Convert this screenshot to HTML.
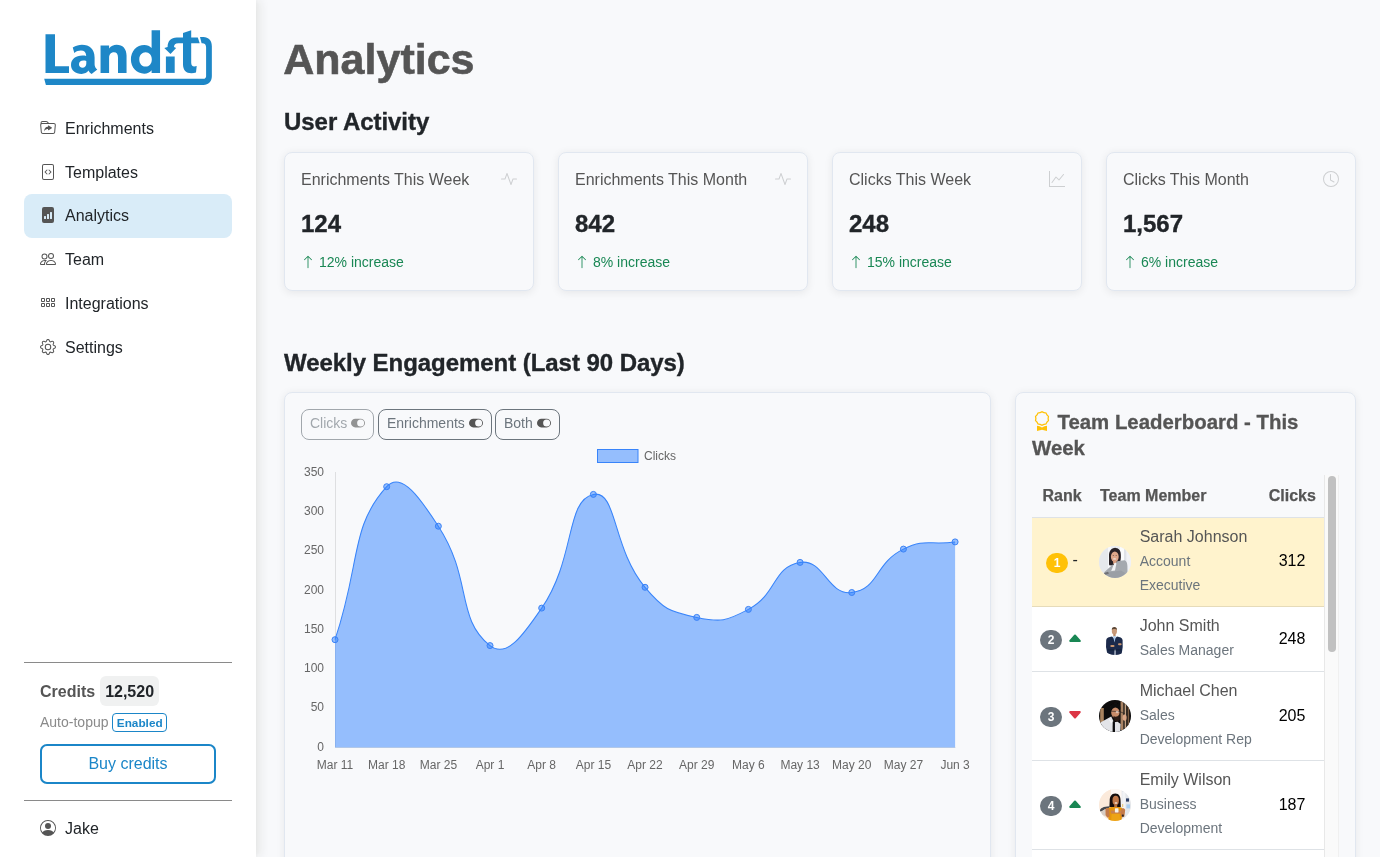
<!DOCTYPE html>
<html lang="en">
<head>
<meta charset="utf-8">
<title>Analytics</title>
<style>
*{box-sizing:border-box;}
html,body{margin:0;padding:0;}
body{width:1380px;height:857px;overflow:hidden;background:#f8f9fb;font-family:"Liberation Sans",sans-serif;font-size:16px;line-height:1.5;color:#212529;position:relative;}
#side,#main{will-change:transform;}
#main{position:absolute;left:0;top:0;width:1380px;height:857px;overflow:hidden;}
svg{display:block;}
/* ---------- sidebar ---------- */
#side{position:absolute;left:0;top:0;width:256px;height:857px;background:#fff;box-shadow:5px 0 9px rgba(45,40,20,.07),1px 0 5px rgba(45,40,20,.03);}
#logo{position:absolute;left:0;top:0;}
.nav{position:absolute;left:24px;top:106px;width:208px;}
.nav a{display:flex;align-items:center;height:43.8px;padding:2px 16px 0;border-radius:8px;color:#212529;text-decoration:none;}
.nav a svg{width:16px;height:16px;margin-right:9px;margin-top:-2px;fill:#555;flex:none;}
.nav a.act{background:#d9ecf8;height:44.6px;margin-bottom:-.8px;padding-bottom:.8px;}
.hr{position:absolute;left:24px;width:208px;height:1px;background:#8a8a8a;}
.cred{position:absolute;left:40px;top:677px;height:30px;display:flex;align-items:center;font-weight:bold;color:#555;}
.cred span{display:inline-block;margin-left:5px;margin-top:-2px;background:#f0f1f1;color:#212529;border-radius:6px;padding:2px 5px 0;height:30px;line-height:28px;}
.auto{position:absolute;left:40px;top:711px;font-size:14px;color:#8a8a8a;height:22px;line-height:22px;}
.auto b{display:inline-block;margin-left:0;font-size:11.8px;color:#1b86c8;border:1px solid #1b86c8;border-radius:4px;padding:1px 3.4px 0;height:19px;line-height:16px;vertical-align:0.5px;}
.buy{position:absolute;left:40px;top:744px;width:176px;height:40px;border:2px solid #1b86c8;border-radius:7px;color:#1b86c8;text-align:center;line-height:35px;}
.user{position:absolute;left:40px;top:817px;display:flex;align-items:center;height:24px;}
.user svg{width:16px;height:16px;fill:#555;margin-right:9px;margin-top:-2px;}
/* ---------- main ---------- */
h1{-webkit-text-stroke:0.6px #555;position:absolute;left:283.3px;top:27px;margin:0;font-size:43px;line-height:64px;color:#555;font-weight:bold;letter-spacing:0;}
h2{letter-spacing:-0.05px;-webkit-text-stroke:0.35px #212529;position:absolute;left:284px;margin:0;font-size:24px;line-height:30px;font-weight:bold;color:#212529;}
.card{position:absolute;background:#f8f9fb;border:1px solid #e1e7f0;border-radius:8px;box-shadow:0 1.5px 8px rgba(0,0,0,.075);}
.stat{top:152px;width:250px;height:139px;}
.stat .t{position:absolute;left:16px;top:15px;color:#555;}
.stat .i{position:absolute;right:16px;top:18px;width:16px;height:16px;fill:#cdcfd1;}
.stat .n{-webkit-text-stroke:0.35px #212529;position:absolute;left:16px;top:53px;font-size:24px;font-weight:bold;line-height:36px;}
.stat .d{position:absolute;left:16px;top:99px;font-size:14px;color:#198754;line-height:21px;display:flex;align-items:center;}
.stat .d svg{width:14px;height:14px;fill:#198754;margin-right:4px;margin-top:-2px;}
.tg{position:absolute;height:31px;border:1px solid #6c757d;border-radius:8px;padding:0 8px 4px 8px;font-size:14px;line-height:20px;color:#6c757d;white-space:nowrap;display:flex;align-items:center;}
.tg svg{width:14px;height:14px;fill:#555;margin-left:4px;}
.bt{-webkit-text-stroke:0.3px #555;position:absolute;font-size:20.4px;font-weight:bold;color:#555;line-height:26px;white-space:nowrap;}
.th{-webkit-text-stroke:0.25px #555;position:absolute;font-weight:bold;color:#555;line-height:24px;white-space:nowrap;}
.bdg{position:absolute;width:22.3px;height:20.4px;border-radius:10.2px;color:#fff;font-size:12px;font-weight:bold;line-height:20.4px;text-align:center;}
.car{position:absolute;width:16px;height:16px;}
.nm{position:absolute;color:#555;line-height:24px;white-space:nowrap;}
.sb{position:absolute;color:#6c757d;font-size:14px;line-height:24px;white-space:nowrap;}
.ck{position:absolute;width:60px;text-align:center;color:#000;line-height:24px;}
.av{position:absolute;width:32px;height:32px;border-radius:50%;overflow:hidden;}
.avs{position:absolute;}
</style>
</head>
<body>

<div id="main">
<h1>Analytics</h1>
<h2 style="top:107px">User Activity</h2>

<div class="card stat" style="left:284px">
  <div class="t">Enrichments This Week</div>
  <svg class="i" viewBox="0 0 16 16"><path fill-rule="evenodd" d="M6 2a.5.5 0 0 1 .47.33L10 12.036l1.53-4.208A.5.5 0 0 1 12 7.5h3.5a.5.5 0 0 1 0 1h-3.15l-1.88 5.17a.5.5 0 0 1-.94 0L6 3.964 4.47 8.171A.5.5 0 0 1 4 8.5H.5a.5.5 0 0 1 0-1h3.15l1.88-5.17A.5.5 0 0 1 6 2"/></svg>
  <div class="n">124</div>
  <div class="d"><svg viewBox="0 0 16 16"><path fill-rule="evenodd" d="M8 15a.5.5 0 0 0 .5-.5V2.707l3.146 3.147a.5.5 0 0 0 .708-.708l-4-4a.5.5 0 0 0-.708 0l-4 4a.5.5 0 1 0 .708.708L7.5 2.707V14.5a.5.5 0 0 0 .5.5"/></svg>12% increase</div>
</div>
<div class="card stat" style="left:558px">
  <div class="t">Enrichments This Month</div>
  <svg class="i" viewBox="0 0 16 16"><path fill-rule="evenodd" d="M6 2a.5.5 0 0 1 .47.33L10 12.036l1.53-4.208A.5.5 0 0 1 12 7.5h3.5a.5.5 0 0 1 0 1h-3.15l-1.88 5.17a.5.5 0 0 1-.94 0L6 3.964 4.47 8.171A.5.5 0 0 1 4 8.5H.5a.5.5 0 0 1 0-1h3.15l1.88-5.17A.5.5 0 0 1 6 2"/></svg>
  <div class="n">842</div>
  <div class="d"><svg viewBox="0 0 16 16"><path fill-rule="evenodd" d="M8 15a.5.5 0 0 0 .5-.5V2.707l3.146 3.147a.5.5 0 0 0 .708-.708l-4-4a.5.5 0 0 0-.708 0l-4 4a.5.5 0 1 0 .708.708L7.5 2.707V14.5a.5.5 0 0 0 .5.5"/></svg>8% increase</div>
</div>
<div class="card stat" style="left:832px">
  <div class="t">Clicks This Week</div>
  <svg class="i" viewBox="0 0 16 16"><path fill-rule="evenodd" d="M0 0h1v15h15v1H0zm14.817 3.113a.5.5 0 0 1 .07.704l-4.5 5.5a.5.5 0 0 1-.74.037L7.06 6.767l-3.656 5.027a.5.5 0 0 1-.808-.588l4-5.5a.5.5 0 0 1 .758-.06l2.609 2.61 4.15-5.073a.5.5 0 0 1 .704-.07"/></svg>
  <div class="n">248</div>
  <div class="d"><svg viewBox="0 0 16 16"><path fill-rule="evenodd" d="M8 15a.5.5 0 0 0 .5-.5V2.707l3.146 3.147a.5.5 0 0 0 .708-.708l-4-4a.5.5 0 0 0-.708 0l-4 4a.5.5 0 1 0 .708.708L7.5 2.707V14.5a.5.5 0 0 0 .5.5"/></svg>15% increase</div>
</div>
<div class="card stat" style="left:1106px">
  <div class="t">Clicks This Month</div>
  <svg class="i" viewBox="0 0 16 16"><path d="M8 3.5a.5.5 0 0 0-1 0V9a.5.5 0 0 0 .252.434l3.5 2a.5.5 0 0 0 .496-.868L8 8.71z"/><path d="M8 16A8 8 0 1 0 8 0a8 8 0 0 0 0 16m7-8A7 7 0 1 1 1 8a7 7 0 0 1 14 0"/></svg>
  <div class="n">1,567</div>
  <div class="d"><svg viewBox="0 0 16 16"><path fill-rule="evenodd" d="M8 15a.5.5 0 0 0 .5-.5V2.707l3.146 3.147a.5.5 0 0 0 .708-.708l-4-4a.5.5 0 0 0-.708 0l-4 4a.5.5 0 1 0 .708.708L7.5 2.707V14.5a.5.5 0 0 0 .5.5"/></svg>6% increase</div>
</div>

<h2 style="top:348px">Weekly Engagement (Last 90 Days)</h2>

<div class="card" style="left:284px;top:392px;width:707px;height:480px"></div>
<div class="tg" style="left:301px;top:409px;opacity:.62">Clicks <svg viewBox="0 0 16 16"><path d="M5 3a5 5 0 0 0 0 10h6a5 5 0 0 0 0-10zm6 9a4 4 0 1 1 0-8 4 4 0 0 1 0 8"/></svg></div>
<div class="tg" style="left:378px;top:409px">Enrichments <svg viewBox="0 0 16 16"><path d="M5 3a5 5 0 0 0 0 10h6a5 5 0 0 0 0-10zm6 9a4 4 0 1 1 0-8 4 4 0 0 1 0 8"/></svg></div>
<div class="tg" style="left:495px;top:409px">Both <svg viewBox="0 0 16 16"><path d="M5 3a5 5 0 0 0 0 10h6a5 5 0 0 0 0-10zm6 9a4 4 0 1 1 0-8 4 4 0 0 1 0 8"/></svg></div>
<svg id="chart" width="1380" height="857" viewBox="0 0 1380 857" style="position:absolute;left:0;top:0;pointer-events:none">
<rect x="597.5" y="449.5" width="40.5" height="13" fill="rgba(50,131,255,.5)" stroke="#3884fa" stroke-width="1"/>
<g font-family="Liberation Sans, sans-serif" font-size="12" fill="#666">
<text x="644" y="460">Clicks</text>
<text x="324" y="750.7" text-anchor="end">0</text><text x="324" y="711.4" text-anchor="end">50</text><text x="324" y="672.1" text-anchor="end">100</text><text x="324" y="632.8" text-anchor="end">150</text><text x="324" y="593.5" text-anchor="end">200</text><text x="324" y="554.2" text-anchor="end">250</text><text x="324" y="514.9" text-anchor="end">300</text><text x="324" y="475.6" text-anchor="end">350</text>
<text x="335.0" y="769" text-anchor="middle">Mar 11</text><text x="386.7" y="769" text-anchor="middle">Mar 18</text><text x="438.4" y="769" text-anchor="middle">Mar 25</text><text x="490.0" y="769" text-anchor="middle">Apr 1</text><text x="541.7" y="769" text-anchor="middle">Apr 8</text><text x="593.4" y="769" text-anchor="middle">Apr 15</text><text x="645.0" y="769" text-anchor="middle">Apr 22</text><text x="696.7" y="769" text-anchor="middle">Apr 29</text><text x="748.4" y="769" text-anchor="middle">May 6</text><text x="800.1" y="769" text-anchor="middle">May 13</text><text x="851.8" y="769" text-anchor="middle">May 20</text><text x="903.4" y="769" text-anchor="middle">May 27</text><text x="955.1" y="769" text-anchor="middle">Jun 3</text>
</g>
<path d="M335.5 472V747.5H955.5" fill="none" stroke="rgba(0,0,0,.1)" stroke-width="1"/>
<path d="M335.00 639.70 C360.84 563.20 349.84 527.16 386.68 486.70 C401.51 470.41 421.13 499.72 438.35 526.20 C472.80 579.17 455.36 618.13 490.02 645.60 C507.04 659.08 524.22 633.67 541.70 608.10 C575.89 558.07 565.46 500.02 593.38 494.40 C617.14 489.62 611.98 547.94 645.05 587.30 C663.65 609.44 669.16 611.50 696.73 617.40 C720.83 622.55 726.28 621.17 748.40 609.40 C777.95 593.67 772.23 566.95 800.08 562.40 C823.91 558.50 827.47 595.62 851.75 592.50 C879.15 588.97 874.28 563.37 903.43 549.10 C925.96 538.07 929.26 545.50 955.10 541.90 L955.10 747.5 L335 747.5 Z" fill="rgba(50,131,255,.5)"/>
<path d="M335.00 639.70 C360.84 563.20 349.84 527.16 386.68 486.70 C401.51 470.41 421.13 499.72 438.35 526.20 C472.80 579.17 455.36 618.13 490.02 645.60 C507.04 659.08 524.22 633.67 541.70 608.10 C575.89 558.07 565.46 500.02 593.38 494.40 C617.14 489.62 611.98 547.94 645.05 587.30 C663.65 609.44 669.16 611.50 696.73 617.40 C720.83 622.55 726.28 621.17 748.40 609.40 C777.95 593.67 772.23 566.95 800.08 562.40 C823.91 558.50 827.47 595.62 851.75 592.50 C879.15 588.97 874.28 563.37 903.43 549.10 C925.96 538.07 929.26 545.50 955.10 541.90" fill="none" stroke="#3884fa" stroke-width="1.05"/>
<g fill="rgba(50,131,255,.5)" stroke="#3b82f6" stroke-width="1"><circle cx="335.00" cy="639.70" r="3"/><circle cx="386.68" cy="486.70" r="3"/><circle cx="438.35" cy="526.20" r="3"/><circle cx="490.02" cy="645.60" r="3"/><circle cx="541.70" cy="608.10" r="3"/><circle cx="593.38" cy="494.40" r="3"/><circle cx="645.05" cy="587.30" r="3"/><circle cx="696.73" cy="617.40" r="3"/><circle cx="748.40" cy="609.40" r="3"/><circle cx="800.08" cy="562.40" r="3"/><circle cx="851.75" cy="592.50" r="3"/><circle cx="903.43" cy="549.10" r="3"/><circle cx="955.10" cy="541.90" r="3"/></g>
</svg>
<!--CHARTEND-->
<!--BOARDSTART--><div class="card" style="left:1015px;top:392px;width:341px;height:480px"></div>
<svg viewBox="0 0 16 16" style="position:absolute;left:1032px;top:411px;width:20px;height:20px;fill:#ffc107"><path d="M9.669.864 8 0 6.331.864l-1.858.282-.842 1.68-1.337 1.32L2.6 6l-.306 1.854 1.337 1.32.842 1.68 1.858.282L8 12l1.669-.864 1.858-.282.842-1.68 1.337-1.32L13.4 6l.306-1.854-1.337-1.32-.842-1.68zm1.196 1.193.684 1.365 1.086 1.072L12.387 6l.248 1.506-1.086 1.072-.684 1.365-1.51.229L8 10.874l-1.355-.702-1.51-.229-.684-1.365-1.086-1.072L3.614 6l-.25-1.506 1.087-1.072.684-1.365 1.51-.229L8 1.126l1.356.702z"/><path d="M4 11.794V16l4-1 4 1v-4.206l-2.018.306L8 13.126 6.018 12.1z"/></svg>
<div class="bt" style="left:1057.5px;top:409px">Team Leaderboard - This</div>
<div class="bt" style="left:1032px;top:435px">Week</div>
<div style="position:absolute;left:1324px;top:475px;width:15px;height:382px;background:#fafafa;border-left:1px solid #e8e8e8;border-right:1px solid #f0f0f0"></div>
<div style="position:absolute;left:1328.4px;top:476px;width:7.2px;height:176px;background:#c1c1c1;border-radius:4px"></div>
<div class="th" style="left:1042.5px;top:484px">Rank</div>
<div class="th" style="left:1100px;top:484px">Team Member</div>
<div class="th" style="left:1268.7px;top:484px">Clicks</div>
<div style="position:absolute;left:1032px;top:517px;width:292px;height:1px;background:#dee2e6"></div>
<div style="position:absolute;left:1032px;top:518px;width:292px;height:89px;background:#fff3cd;border-bottom:1px solid #e6dbb9"></div>
<div class="bdg" style="left:1046.0px;top:552.8px;background:#ffc107">1</div>
<div style="position:absolute;left:1072.4px;top:548.0px;line-height:24px;color:#212529">-</div>
<!--AV1--><svg class="avs" style="left:1099.0px;top:546.2px" width="32" height="32" viewBox="0 0 32 32"><defs><clipPath id="cp1"><circle cx="16" cy="16" r="16"/></clipPath><filter id="bl1" x="-10%" y="-10%" width="120%" height="120%"><feGaussianBlur stdDeviation="0.45"/></filter></defs><g clip-path="url(#cp1)"><rect width="32" height="32" fill="#eceef2"/><g filter="url(#bl1)"><rect x="0" y="0" width="10" height="32" fill="#e6e8ec"/><rect x="9" y="0" width="3" height="32" fill="#f6f7fa"/><rect x="12" y="0" width="9" height="32" fill="#eceef2"/><rect x="21" y="0" width="4" height="32" fill="#fafbfd"/><rect x="25" y="0" width="2.5" height="32" fill="#dfe2e8"/><rect x="27.5" y="0" width="5" height="32" fill="#f1f2f6"/><path d="M16.6 1.8 C11.8 1.8 10 5.5 10 10 C10.2 14 9.8 17 10.2 19.2 L14.5 19.5 L21 16.5 C22.2 13 22 9 21.6 6.5 C21 3.5 19.2 2 16.6 2 Z" fill="#2a2226"/><ellipse cx="15.8" cy="10.7" rx="3.9" ry="5.2" fill="#e0a78a"/><path d="M14 13.5 L17.5 13.5 L17.4 17.5 L14.2 18 Z" fill="#d99f82"/><ellipse cx="15.6" cy="12.9" rx="1.6" ry="0.65" fill="#f3e9e4"/><ellipse cx="14.3" cy="9.4" rx="0.7" ry="0.4" fill="#4a3a36"/><ellipse cx="17.2" cy="9.4" rx="0.7" ry="0.4" fill="#4a3a36"/><path d="M18 15.2 L25.5 14.2 C27.5 14.6 28.3 17 28.4 20 L28.6 32 L4 32 L5.5 26 L13.8 18.6 L15.5 22 Z" fill="#a5a9af"/><path d="M15.2 17.2 L17.6 16.4 L16 24.5 L12.2 25 Z" fill="#f2f3f5"/><path d="M8 26.5 L22 24.5 L26 27 L24 32 L6 32 Z" fill="#9a9ea5"/><path d="M5 27 L9 25.8 L10 27.5 L6 29 Z" fill="#6f6f74"/></g></g></svg><!--/AV1-->
<div class="nm" style="left:1139.7px;top:525px">Sarah Johnson</div>
<div class="sb" style="left:1139.7px;top:549px">Account</div>
<div class="sb" style="left:1139.7px;top:573px">Executive</div>
<div class="ck" style="left:1262px;top:548.5px">312</div>
<div style="position:absolute;left:1032px;top:607px;width:292px;height:65px;background:#fff;border-bottom:1px solid #dee2e6"></div>
<div class="bdg" style="left:1040.0px;top:629.8px;background:#6c757d">2</div>
<svg class="car" viewBox="0 0 16 16" style="left:1066.8px;top:630.2px;fill:#198754"><path d="m7.247 4.86-4.796 5.481c-.566.647-.106 1.659.753 1.659h9.592a1 1 0 0 0 .753-1.659l-4.796-5.48a1 1 0 0 0-1.506 0z"/></svg>
<!--AV2--><svg class="avs" style="left:1099.0px;top:622.8px" width="32" height="32" viewBox="0 0 32 32"><defs><clipPath id="cp2"><circle cx="16" cy="16" r="16"/></clipPath><filter id="bl2" x="-10%" y="-10%" width="120%" height="120%"><feGaussianBlur stdDeviation="0.45"/></filter></defs><g clip-path="url(#cp2)"><rect width="32" height="32" fill="#ffffff"/><g filter="url(#bl2)"><ellipse cx="15.4" cy="8" rx="2.6" ry="3.6" fill="#c99a78"/><path d="M12.8 7 C12.8 4.6 14 4 15.4 4 C16.9 4 18 4.7 18 7 C17.2 5.8 13.6 5.8 12.8 7 Z" fill="#5b4636"/><rect x="14.3" y="10.8" width="2.3" height="2.6" fill="#bd8c69"/><path d="M13 13.6 C10 14 7.6 15 7.2 17 L7 24 L8.5 31.9 L22.5 31.9 L23.7 24 L23.6 17 C23.2 15 20.8 14 18 13.6 L15.5 16 Z" fill="#1c2a4b"/><path d="M14.1 13.2 L16.9 13.2 L15.5 19.6 Z" fill="#a9c8ea"/><rect x="11.3" y="22" width="4.2" height="2.1" rx="1" fill="#c9956f"/><rect x="19" y="20.3" width="3.6" height="2" rx="1" fill="#c9956f"/><path d="M15.3 26.5 L17 26.5 L17 31.9 L15 31.9 Z" fill="#8e99ad"/><path d="M8.5 26.5 L22.5 26.5 L22.5 27.3 L8.5 27.3 Z" fill="#121c35"/></g></g></svg><!--/AV2-->
<div class="nm" style="left:1139.7px;top:614px">John Smith</div>
<div class="sb" style="left:1139.7px;top:638px">Sales Manager</div>
<div class="ck" style="left:1262px;top:626.5px">248</div>
<div style="position:absolute;left:1032px;top:672px;width:292px;height:89px;background:#fff;border-bottom:1px solid #dee2e6"></div>
<div class="bdg" style="left:1040.0px;top:706.8px;background:#6c757d">3</div>
<svg class="car" viewBox="0 0 16 16" style="left:1066.8px;top:707.2px;fill:#dc3545"><path d="M7.247 11.14 2.451 5.658C1.885 5.013 2.345 4 3.204 4h9.592a1 1 0 0 1 .753 1.659l-4.796 5.48a1 1 0 0 1-1.506 0z"/></svg>
<!--AV3--><svg class="avs" style="left:1099.2px;top:699.7px" width="32" height="32" viewBox="0 0 32 32"><defs><clipPath id="cp3"><circle cx="16" cy="16" r="16"/></clipPath><filter id="bl3" x="-10%" y="-10%" width="120%" height="120%"><feGaussianBlur stdDeviation="0.45"/></filter></defs><g clip-path="url(#cp3)"><rect width="32" height="32" fill="#0d0c0c"/><g filter="url(#bl3)"><rect x="1.2" y="8" width="3.6" height="16" fill="#a9835f"/><rect x="21.6" y="0" width="2.8" height="30" fill="#a88263"/><rect x="25.6" y="2" width="1.6" height="26" fill="#c5a283"/><rect x="28.6" y="6" width="1.6" height="20" fill="#7a5b43"/><path d="M11.2 10 C10.4 5 13.5 3.2 16.5 3.2 C20 3.2 22 5.4 21.2 9.6 C19 8 14 8 11.2 10 Z" fill="#0e0c0c"/><ellipse cx="16.4" cy="12.6" rx="4.2" ry="5.2" fill="#c88c6a"/><path d="M14.4 15.8 C16 17.5 18.5 17 20.6 14.6 L21 19 C20 21.6 17.5 22.4 15.6 20.8 Z" fill="#2a1a14"/><path d="M12.4 11.2 L20.8 11.6 L25.5 13.6" stroke="#1d1614" stroke-width="0.6" fill="none"/><ellipse cx="18.2" cy="12" rx="1.5" ry="1.2" fill="#e7d6cc" opacity=".75"/><ellipse cx="25.6" cy="17.6" rx="2" ry="3.2" fill="#dba686"/><path d="M12.2 16.4 L1.4 22.6 L4 29 L8.4 32 L21.2 32 L21.6 24 L18.6 21.8 L15 22.2 Z" fill="#e3e4e8"/><path d="M13.7 21.2 L15.9 21.2 L16 32 L13.6 32 Z" fill="#0b0b0d"/><path d="M9.5 18.2 L13.8 21.6 L12 23.5 Z" fill="#f6f6f8"/></g></g></svg><!--/AV3-->
<div class="nm" style="left:1139.7px;top:679px">Michael Chen</div>
<div class="sb" style="left:1139.7px;top:703px">Sales</div>
<div class="sb" style="left:1139.7px;top:727px">Development Rep</div>
<div class="ck" style="left:1262px;top:703.5px">205</div>
<div style="position:absolute;left:1032px;top:761px;width:292px;height:89px;background:#fff;border-bottom:1px solid #dee2e6"></div>
<div class="bdg" style="left:1040.0px;top:795.8px;background:#6c757d">4</div>
<svg class="car" viewBox="0 0 16 16" style="left:1066.8px;top:796.2px;fill:#198754"><path d="m7.247 4.86-4.796 5.481c-.566.647-.106 1.659.753 1.659h9.592a1 1 0 0 0 .753-1.659l-4.796-5.48a1 1 0 0 0-1.506 0z"/></svg>
<!--AV4--><svg class="avs" style="left:1099.2px;top:788.8px" width="32" height="32" viewBox="0 0 32 32"><defs><clipPath id="cp4"><circle cx="16" cy="16" r="16"/></clipPath><filter id="bl4" x="-10%" y="-10%" width="120%" height="120%"><feGaussianBlur stdDeviation="0.45"/></filter></defs><g clip-path="url(#cp4)"><rect width="32" height="32" fill="#fdf8f4"/><g filter="url(#bl4)"><rect x="0" y="0" width="12" height="32" fill="#fbeadb"/><rect x="12" y="0" width="10.6" height="32" fill="#fdf8f4"/><rect x="22.6" y="0" width="10" height="32" fill="#e3e6ea"/><rect x="23.4" y="3" width="3" height="20" fill="#f2f3f5"/><rect x="27" y="9.4" width="3" height="3.2" fill="#2d3f66"/><rect x="27.4" y="15.4" width="3.6" height="4" fill="#a8cdee"/><rect x="23.2" y="15" width="1" height="3" fill="#e9c46c"/><path d="M0.6 22.4 C1 19 4.6 17.4 10.4 17.2 L10.4 19.4 C6 19.6 3.6 20.8 3 23 Z" fill="#44474d"/><path d="M1.4 22.4 L6.4 20.4 L7.2 27.5 L3.4 26 Z" fill="#d7cdc5"/><path d="M16.3 4.6 C12.4 4.6 10.6 8 10.7 12 L10.4 18 L21.8 18 L21.6 12 C21.7 8 20.2 4.6 16.3 4.6 Z" fill="#17100e"/><ellipse cx="16.7" cy="11.4" rx="3.2" ry="4.6" fill="#c17848"/><ellipse cx="17" cy="14" rx="1.5" ry="0.65" fill="#f4ebe4"/><rect x="15.2" y="15.2" width="3" height="3.4" fill="#b56e40"/><path d="M8.4 19.6 C9.4 18.2 12.4 17.8 15.4 18 L18.4 18 C21 17.8 23.2 18.4 23.6 19.8 L22.6 32 L9.6 32 Z" fill="#e5950d"/><path d="M6.4 20.4 C7 18.6 9.6 18.4 10.2 20 L10.6 27.6 L8.2 28.8 L6.6 26 Z" fill="#c47a48"/><path d="M22.2 20.4 C23 18.8 25.8 19 26.2 21 L25.4 27.4 L23 28.6 L21.8 26 Z" fill="#c47a48"/><path d="M11.5 21.6 L22.4 21.6 L22 24.4 L12 24.4 Z" fill="#c98250"/><rect x="15.9" y="19.2" width="3.6" height="4.2" rx="0.6" fill="#f5f2ec"/><rect x="22.9" y="25.6" width="1.9" height="2" fill="#2a2524"/><path d="M12.5 25 L20.8 25 L21.4 32 L12 32 Z" fill="#eda312"/></g></g></svg><!--/AV4-->
<div class="nm" style="left:1139.7px;top:768px">Emily Wilson</div>
<div class="sb" style="left:1139.7px;top:792px">Business</div>
<div class="sb" style="left:1139.7px;top:816px">Development</div>
<div class="ck" style="left:1262px;top:792.5px">187</div>
<div style="position:absolute;left:1032px;top:850px;width:292px;height:20px;background:#fff;border-bottom:1px solid #dee2e6"></div><!--BOARDEND-->
</div>
<div id="side">
  <svg id="logo" width="256" height="100" viewBox="0 0 256 100" fill="#1e87c7"><path d="M45.5 34.2H55V66.3H69V72.9H45.5Z"/><path fill-rule="evenodd" d="M72.75 47.4 C76 45.6 79 44.7 81.9 44.7 C89.5 44.7 94.6 49.2 94.6 57.5 V64.2 C94.6 66.5 95.6 68.2 97.3 69.4 L91.6 73.9 C90.2 73.2 89.1 72 88.5 70.6 C86.9 72.7 84.6 73.9 81.6 73.9 C75.6 73.9 71 70.2 71 64.9 C71 59.3 75.6 55.6 82.5 55.6 C84 55.6 85.2 55.7 86.2 55.9 C86 52.4 84.3 50.6 80.9 50.6 C78.6 50.6 76.4 51.4 74.3 52.9 Z M86.3 61 C85.4 60.7 84.4 60.6 83.4 60.6 C80.6 60.6 79 62.1 79 64.3 C79 66.4 80.5 67.8 82.5 67.8 C84.8 67.8 86.3 66.2 86.3 63.6 Z"/><path d="M100.55 45.6 H109.1 V48.4 C110.9 46 113.6 44.8 116.6 44.8 C122.7 44.8 126.55 48.8 126.55 55.6 V72.9 H118 V57.4 C118 54 116.6 52.2 113.9 52.2 C111 52.2 109.1 54.3 109.1 57.8 V72.9 H100.55 Z"/><path fill-rule="evenodd" d="M151.6 30.15 H160.05 V72.9 H151.6 V70.3 C149.8 72.5 147.3 73.7 144.3 73.7 C136.7 73.7 130.9 67.6 130.9 59.3 C130.9 51 136.7 44.9 144.3 44.9 C147.3 44.9 149.8 46 151.6 48.1 Z M145.6 52.3 C142 52.3 139.3 55.2 139.3 59.4 C139.3 63.6 142 66.6 145.6 66.6 C149.2 66.6 151.8 63.6 151.8 59.4 C151.8 55.2 149.2 52.3 145.6 52.3 Z"/><path d="M165.9 56.5 H174.7 V72.9 H165.9 Z"/><path d="M183 33 L191.2 30.2 V37.5 H197.8 L199.7 43.2 H191.2 V62.5 C191.2 65.2 192.3 66.4 194.3 66.4 C195.1 66.4 196 66.3 196.7 66.1 L196 72.4 C194.8 72.9 193.3 73.2 191.4 73.2 C186 73.2 183 70 183 64.2 V43.2 H178.3 C175.3 43.2 174 44.6 174 47 L176.1 47.9 L170.5 54.1 L164.3 47.9 L167.6 46.9 C167.7 41 171 37.5 176.8 37.5 H183 Z"/><path d="M44.2 78.8 H203.5 C205 78.8 206.1 77.7 206.1 76.2 V47.5 C206.1 44.6 204.8 43.2 202.3 43.2 H201.6 L200 37.1 H203.3 C208.6 37.1 211.85 40.6 211.85 46.2 V76.3 C211.85 81.5 208.5 84.9 203.4 84.9 H45.9 Z"/></svg>
  <div class="nav">
    <a><svg viewBox="0 0 16 16"><path d="m11.798 8.271-3.182 1.97c-.27.166-.616-.036-.616-.372V9.1s-2.571-.3-4 2.4c.571-4.8 3.143-4.8 4-4.8v-.769c0-.336.346-.538.616-.371l3.182 1.969c.27.166.27.576 0 .742"/><path d="m.5 3 .04.87a2 2 0 0 0-.342 1.311l.637 7A2 2 0 0 0 2.826 14h10.348a2 2 0 0 0 1.991-1.819l.637-7A2 2 0 0 0 13.81 3H9.828a2 2 0 0 1-1.414-.586l-.828-.828A2 2 0 0 0 6.172 1H2.5a2 2 0 0 0-2 2m.694 2.09A1 1 0 0 1 2.19 4h11.62a1 1 0 0 1 .996 1.09l-.636 7a1 1 0 0 1-.996.91H2.826a1 1 0 0 1-.995-.91zM6.172 2a1 1 0 0 1 .707.293L7.586 3H2.19q-.362.002-.683.12L1.5 2.98a1 1 0 0 1 1-.98z"/></svg>Enrichments</a>
    <a><svg viewBox="0 0 16 16"><path d="M6.646 5.646a.5.5 0 1 1 .708.708L5.707 8l1.647 1.646a.5.5 0 0 1-.708.708l-2-2a.5.5 0 0 1 0-.708zm2.708 0a.5.5 0 1 0-.708.708L10.293 8 8.646 9.646a.5.5 0 0 0 .708.708l2-2a.5.5 0 0 0 0-.708z"/><path d="M2 2a2 2 0 0 1 2-2h8a2 2 0 0 1 2 2v12a2 2 0 0 1-2 2H4a2 2 0 0 1-2-2zm10-1H4a1 1 0 0 0-1 1v12a1 1 0 0 0 1 1h8a1 1 0 0 0 1-1V2a1 1 0 0 0-1-1"/></svg>Templates</a>
    <a class="act"><svg viewBox="0 0 16 16"><path d="M12 0H4a2 2 0 0 0-2 2v12a2 2 0 0 0 2 2h8a2 2 0 0 0 2-2V2a2 2 0 0 0-2-2m-2 11.5v-6a.5.5 0 0 1 .5-.5h1a.5.5 0 0 1 .5.5v6a.5.5 0 0 1-.5.5h-1a.5.5 0 0 1-.5-.5m-2.5.5a.5.5 0 0 1-.5-.5v-4a.5.5 0 0 1 .5-.5h1a.5.5 0 0 1 .5.5v4a.5.5 0 0 1-.5.5zm-3 0a.5.5 0 0 1-.5-.5v-2a.5.5 0 0 1 .5-.5h1a.5.5 0 0 1 .5.5v2a.5.5 0 0 1-.5.5z"/></svg>Analytics</a>
    <a><svg viewBox="0 0 16 16"><path d="M15 14s1 0 1-1-1-4-5-4-5 3-5 4 1 1 1 1zm-7.978-1L7 12.996c.001-.264.167-1.03.76-1.72C8.312 10.629 9.282 10 11 10c1.717 0 2.687.63 3.24 1.276.593.69.758 1.457.76 1.72l-.008.002-.014.002zM11 7a2 2 0 1 0 0-4 2 2 0 0 0 0 4m3-2a3 3 0 1 1-6 0 3 3 0 0 1 6 0M6.936 9.28a6 6 0 0 0-1.23-.247A7 7 0 0 0 5 9c-4 0-5 3-5 4q0 1 1 1h4.216A2.24 2.24 0 0 1 5 13c0-1.01.377-2.042 1.09-2.904.243-.294.526-.569.846-.816M4.92 10A5.5 5.5 0 0 0 4 13H1c0-.26.164-1.03.76-1.724.545-.636 1.492-1.256 3.16-1.275ZM1.5 5.5a3 3 0 1 1 6 0 3 3 0 0 1-6 0m3-2a2 2 0 1 0 0 4 2 2 0 0 0 0-4"/></svg>Team</a>
    <a><svg viewBox="0 0 16 16"><path d="M4 4v2H2V4zm1 7V9a1 1 0 0 0-1-1H2a1 1 0 0 0-1 1v2a1 1 0 0 0 1 1h2a1 1 0 0 0 1-1m0-5V4a1 1 0 0 0-1-1H2a1 1 0 0 0-1 1v2a1 1 0 0 0 1 1h2a1 1 0 0 0 1-1m5 5V9a1 1 0 0 0-1-1H7a1 1 0 0 0-1 1v2a1 1 0 0 0 1 1h2a1 1 0 0 0 1-1m0-5V4a1 1 0 0 0-1-1H7a1 1 0 0 0-1 1v2a1 1 0 0 0 1 1h2a1 1 0 0 0 1-1M9 4v2H7V4zm5 0h-2v2h2zM4 9v2H2V9zm5 0v2H7V9zm5 0v2h-2V9zm-3-5a1 1 0 0 1 1-1h2a1 1 0 0 1 1 1v2a1 1 0 0 1-1 1h-2a1 1 0 0 1-1-1zm1 4a1 1 0 0 0-1 1v2a1 1 0 0 0 1 1h2a1 1 0 0 0 1-1V9a1 1 0 0 0-1-1z"/></svg>Integrations</a>
    <a><svg viewBox="0 0 16 16"><path d="M8 4.754a3.246 3.246 0 1 0 0 6.492 3.246 3.246 0 0 0 0-6.492M5.754 8a2.246 2.246 0 1 1 4.492 0 2.246 2.246 0 0 1-4.492 0"/><path d="M9.796 1.343c-.527-1.79-3.065-1.79-3.592 0l-.094.319a.873.873 0 0 1-1.255.52l-.292-.16c-1.64-.892-3.433.902-2.54 2.541l.159.292a.873.873 0 0 1-.52 1.255l-.319.094c-1.79.527-1.79 3.065 0 3.592l.319.094a.873.873 0 0 1 .52 1.255l-.16.292c-.892 1.64.901 3.434 2.541 2.54l.292-.159a.873.873 0 0 1 1.255.52l.094.319c.527 1.79 3.065 1.79 3.592 0l.094-.319a.873.873 0 0 1 1.255-.52l.292.16c1.64.893 3.434-.902 2.54-2.541l-.159-.292a.873.873 0 0 1 .52-1.255l.319-.094c1.79-.527 1.79-3.065 0-3.592l-.319-.094a.873.873 0 0 1-.52-1.255l.16-.292c.893-1.64-.902-3.433-2.541-2.54l-.292.159a.873.873 0 0 1-1.255-.52zm-2.633.283c.246-.835 1.428-.835 1.674 0l.094.319a1.873 1.873 0 0 0 2.693 1.115l.291-.16c.764-.415 1.6.42 1.184 1.185l-.159.292a1.873 1.873 0 0 0 1.116 2.692l.318.094c.835.246.835 1.428 0 1.674l-.319.094a1.873 1.873 0 0 0-1.115 2.693l.16.291c.415.764-.42 1.6-1.185 1.184l-.291-.159a1.873 1.873 0 0 0-2.693 1.116l-.094.318c-.246.835-1.428.835-1.674 0l-.094-.319a1.873 1.873 0 0 0-2.692-1.115l-.292.16c-.764.415-1.6-.42-1.184-1.185l.159-.291A1.873 1.873 0 0 0 1.945 8.93l-.319-.094c-.835-.246-.835-1.428 0-1.674l.319-.094A1.873 1.873 0 0 0 3.06 4.377l-.16-.292c-.415-.764.42-1.6 1.185-1.184l.292.159a1.873 1.873 0 0 0 2.692-1.115z"/></svg>Settings</a>
  </div>
  <div class="hr" style="top:662px"></div>
  <div class="cred">Credits <span>12,520</span></div>
  <div class="auto">Auto-topup <b>Enabled</b></div>
  <div class="buy">Buy credits</div>
  <div class="hr" style="top:800px"></div>
  <div class="user"><svg viewBox="0 0 16 16"><path d="M11 6a3 3 0 1 1-6 0 3 3 0 0 1 6 0"/><path fill-rule="evenodd" d="M0 8a8 8 0 1 1 16 0A8 8 0 0 1 0 8m8-7a7 7 0 0 0-5.468 11.37C3.242 11.226 4.805 10 8 10s4.757 1.225 5.468 2.37A7 7 0 0 0 8 1"/></svg>Jake</div>
</div>
</body>
</html>
